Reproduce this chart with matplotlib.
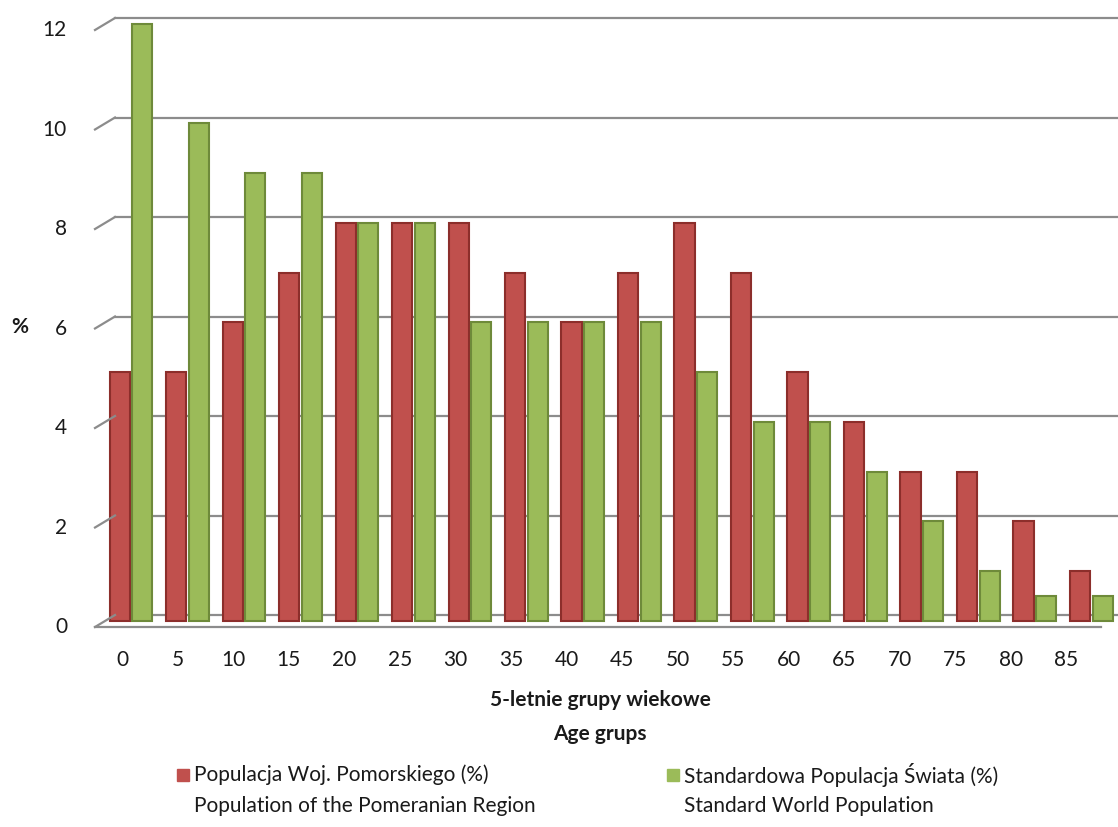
import matplotlib.pyplot as plt
import matplotlib.transforms as mtransforms
from matplotlib.patches import Rectangle

plt.rcParams['font.family'] = ['Lato', 'DejaVu Sans']

# dane
grupy = ["0", "5", "10", "15", "20", "25", "30", "35", "40", "45",
         "50", "55", "60", "65", "70", "75", "80", "85"]
pomorskie = [5, 5, 6, 7, 8, 8, 8, 7, 6, 7, 8, 7, 5, 4, 3, 3, 2, 1]
swiat = [12, 10, 9, 9, 8, 8, 6, 6, 6, 6, 5, 4, 4, 3, 2, 1, 0.5, 0.5]
y_ticks = [0, 2, 4, 6, 8, 10, 12]

red, red_edge = "#C0504D", "#8C2E2B"
green, green_edge = "#9BBB59", "#6E8A3A"
grid_col = "#8C8C8C"
txt = "#1a1a1a"

W, H = 1118, 827
fig = plt.figure(figsize=(W / 100, H / 100), dpi=100)
ax = fig.add_axes([115 / W, 1 - 615 / H, 1 - 115 / W, (615 - 18) / H])
ax.set_xlim(-0.283, 17.47)
ax.set_ylim(0, 12)
ax.axis("off")

# tylna ściana - linie siatki z ukośnymi kreskami (efekt 3D)
back = ax.transData
front = back + mtransforms.ScaledTranslation(-20 / 100, -12 / 100, fig.dpi_scale_trans)
x0 = -0.283
for t in y_ticks:
    ax.plot([x0, 17.47], [t, t], color=grid_col, lw=1.6, clip_on=False, zorder=1)
    pf = front.transform((x0, t))
    pb = back.transform((x0, t))
    fig.add_artist(plt.Line2D([pf[0] / W, pb[0] / W], [pf[1] / H, pb[1] / H],
                              color=grid_col, lw=1.6))
    fig.text((pf[0] - 28) / W, pf[1] / H, str(t), ha="right", va="center",
             fontsize=15, color=txt)

# przednia krawędź podłogi
p0 = front.transform((x0, 0))
p1 = front.transform((17.47, 0))
fig.add_artist(plt.Line2D([p0[0] / W, (p1[0] + 3) / W], [p0[1] / H, p0[1] / H],
                          color=grid_col, lw=1.6))

# słupki
w = 0.36
ax.bar([i - 0.2 for i in range(len(grupy))], pomorskie, width=w, bottom=-0.12,
       color=red, edgecolor=red_edge, linewidth=1.5, zorder=3, clip_on=False)
ax.bar([i + 0.2 for i in range(len(grupy))], swiat, width=w, bottom=-0.12,
       color=green, edgecolor=green_edge, linewidth=1.5, zorder=3, clip_on=False)

# etykiety osi X (przód)
for i, g in enumerate(grupy):
    px = back.transform((i, 0))[0] - 9 - 16 * i / 17
    fig.text(px / W, 1 - 660 / H, g, ha="center", va="center", fontsize=15, color=txt)

fig.text(600 / W, 1 - 700 / H, "5-letnie grupy wiekowe", ha="center", va="center",
         fontsize=15, fontweight="bold", color=txt)
fig.text(600 / W, 1 - 734 / H, "Age grups", ha="center", va="center",
         fontsize=15, fontweight="bold", color=txt)
fig.text(20 / W, 1 - 327 / H, "%", ha="center", va="center",
         fontsize=15, fontweight="bold", color=txt)

# legenda
fig.add_artist(Rectangle((177 / W, 1 - 781 / H), 12 / W, 12 / H,
                         color=red, transform=fig.transFigure))
fig.text(194 / W, 1 - 775 / H, "Populacja Woj. Pomorskiego (%)", ha="left",
         va="center", fontsize=15, color=txt)
fig.text(194 / W, 1 - 806 / H, "Population of the Pomeranian Region", ha="left",
         va="center", fontsize=15, color=txt)
fig.add_artist(Rectangle((667 / W, 1 - 781 / H), 12 / W, 12 / H,
                         color=green, transform=fig.transFigure))
fig.text(684 / W, 1 - 775 / H, "Standardowa Populacja Świata (%)", ha="left",
         va="center", fontsize=15, color=txt)
fig.text(684 / W, 1 - 806 / H, "Standard World Population", ha="left",
         va="center", fontsize=15, color=txt)

fig.savefig("out.png", dpi=100)
